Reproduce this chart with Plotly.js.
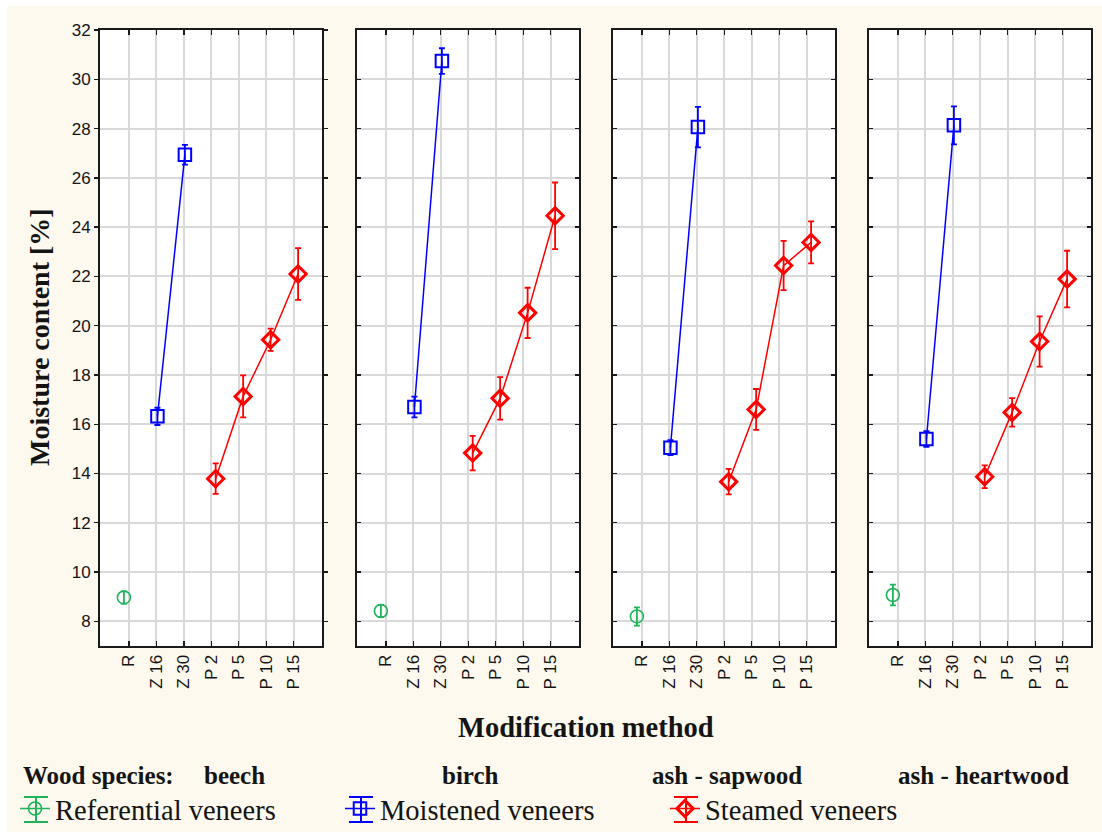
<!DOCTYPE html>
<html>
<head>
<meta charset="utf-8">
<script src="https://cdn.plot.ly/plotly-3.0.1.min.js"></script>
<style>html,body{margin:0;padding:0;background:#fff;}#chart{width:1102px;height:832px;}</style>
</head>
<body>
<div id="chart"></div>
<script>
// ---------------- DATA ----------------
const categories = ['R', 'Z 16', 'Z 30', 'P 2', 'P 5', 'P 10', 'P 15'];
const species = ['beech', 'birch', 'ash - sapwood', 'ash - heartwood'];
const seriesNames = ['Referential veneers', 'Moistened veneers', 'Steamed veneers'];

const referentialCats = ['R'];
const moistenedCats = ['Z 16', 'Z 30'];
const steamedCats = ['P 2', 'P 5', 'P 10', 'P 15'];

// one row per wood species (beech, birch, ash - sapwood, ash - heartwood)
const referentialMean = [[8.97], [8.42], [8.20], [9.07]];
const referentialErr  = [[0.25], [0.25], [0.37], [0.42]];

const moistenedMean = [[16.32, 26.94], [16.70, 30.74], [15.05, 28.06], [15.40, 28.13]];
const moistenedErr  = [[0.35, 0.40], [0.42, 0.52], [0.30, 0.82], [0.32, 0.77]];

const steamedMean = [[13.79, 17.13, 19.43, 22.10], [14.83, 17.05, 20.52, 24.46],
                     [13.67, 16.60, 22.44, 23.38], [13.87, 16.48, 19.36, 21.89]];
const steamedErr  = [[0.62, 0.85, 0.45, 1.05], [0.70, 0.86, 1.02, 1.35],
                     [0.52, 0.83, 1.00, 0.85], [0.46, 0.58, 1.02, 1.15]];

const yTicks = [8, 10, 12, 14, 16, 18, 20, 22, 24, 26, 28, 30, 32];

// ---------------- STYLE ----------------
const W = 1102, H = 832;
const fx = v => v / W;
const fy = v => 1 - v / H;
const panelPx = [[100, 322], [357, 579], [613, 835], [869, 1091]];
const plotTop = 30, plotBottom = 646;
const SERIF = 'Liberation Serif, Times New Roman, serif';
const SANS = 'Liberation Sans, Arial, sans-serif';
const TXT = '#141414';
const GREEN = '#1fb45a', BLUE = '#0000ff', RED = '#ff0000';
const xOffset = [-0.18, 0.04, 0.16]; // per-series horizontal offset within category

const seriesStyle = [
  {color: GREEN, symbol: 'circle-open', size: 13, mlw: 1.6, lw: 1.5},
  {color: BLUE, symbol: 'square-open', size: 12.5, mlw: 2, lw: 1.5},
  {color: RED, symbol: 'diamond-open', size: 12.5, mlw: 3, lw: 1.5}
];

const seriesCats = [referentialCats, moistenedCats, steamedCats];
const seriesMean = [referentialMean, moistenedMean, steamedMean];
const seriesErr = [referentialErr, moistenedErr, steamedErr];

const traces = [];
for (let p = 0; p < species.length; p++) {
  const sfx = p === 0 ? '' : String(p + 1);
  for (let s = 0; s < 3; s++) {
    const st = seriesStyle[s];
    traces.push({
      type: 'scatter',
      mode: 'lines+markers',
      name: seriesNames[s],
      legendgroup: seriesNames[s],
      showlegend: p === 0,
      xaxis: 'x' + sfx,
      yaxis: 'y' + sfx,
      x: seriesCats[s].map(c => categories.indexOf(c) + xOffset[s]),
      y: seriesMean[s][p],
      error_y: {type: 'data', array: seriesErr[s][p], visible: true,
                color: st.color, thickness: 1.8, width: 3},
      line: {color: st.color, width: st.lw},
      marker: {symbol: st.symbol, size: st.size, color: st.color,
               line: {color: st.color, width: st.mlw}},
      hoverinfo: 'x+y'
    });
  }
}

const legendX = 15, legendStep = 325, legendMidY = 809;

const layout = {
  width: W, height: H,
  margin: {l: 0, r: 0, t: 0, b: 0, pad: 0, autoexpand: false},
  paper_bgcolor: '#fdf9ee',
  plot_bgcolor: '#ffffff',
  showlegend: true,
  legend: {
    orientation: 'h', x: fx(legendX), xanchor: 'left', y: fy(legendMidY), yanchor: 'middle',
    font: {family: SERIF, size: 28.5, color: TXT},
    entrywidth: legendStep - 45, entrywidthmode: 'pixels', itemwidth: 30,
    bgcolor: 'rgba(0,0,0,0)', borderwidth: 0, traceorder: 'normal', itemclick: false
  },
  annotations: [],
  shapes: [
    {type: 'rect', xref: 'paper', yref: 'paper', x0: 0, x1: 1, y0: fy(6), y1: 1,
     fillcolor: '#ffffff', line: {width: 0}, layer: 'below'},
    {type: 'rect', xref: 'paper', yref: 'paper', x0: 0, x1: fx(7), y0: 0, y1: 1,
     fillcolor: '#ffffff', line: {width: 0}, layer: 'below'}
  ]
};

for (let p = 0; p < species.length; p++) {
  const sfx = p === 0 ? '' : String(p + 1);
  layout['xaxis' + sfx] = {
    domain: [fx(panelPx[p][0]), fx(panelPx[p][1])],
    anchor: 'y' + sfx,
    range: [-1.05, 7.03],
    tickmode: 'array',
    tickvals: categories.map((c, i) => i),
    ticktext: categories,
    tickangle: -90,
    ticks: 'inside', ticklen: 5, tickwidth: 1.4, tickcolor: '#1a1a1a',
    showline: true, linecolor: '#1a1a1a', linewidth: 2, mirror: 'ticks',
    showgrid: true, gridcolor: '#d9d9d9', gridwidth: 2,
    zeroline: false, fixedrange: true,
    tickfont: {family: SANS, size: 17, color: TXT}
  };
  layout['yaxis' + sfx] = {
    domain: [fy(plotBottom), fy(plotTop)],
    anchor: 'x' + sfx,
    range: [7, 32],
    tickmode: 'array',
    tickvals: yTicks,
    ticktext: yTicks.map(String),
    ticks: p === 0 ? 'outside' : 'inside', ticklen: 4, tickwidth: 1.4, tickcolor: '#1a1a1a',
    showticklabels: p === 0,
    showline: true, linecolor: '#1a1a1a', linewidth: 2, mirror: 'ticks',
    showgrid: true, gridcolor: '#d9d9d9', gridwidth: 2,
    zeroline: false, fixedrange: true,
    tickfont: {family: SANS, size: 17, color: TXT}
  };
}

// axis titles as annotations
layout.annotations.push({
  xref: 'paper', yref: 'paper', x: fx(40), y: fy(337), textangle: -90,
  text: '<b>Moisture content [%]</b>', showarrow: false,
  font: {family: SERIF, size: 28, color: TXT}, xanchor: 'center', yanchor: 'middle'
});
layout.annotations.push({
  xref: 'paper', yref: 'paper', x: fx(586), y: fy(727),
  text: '<b>Modification method</b>', showarrow: false,
  font: {family: SERIF, size: 28.5, color: TXT}, xanchor: 'center', yanchor: 'middle'
});
layout.annotations.push({
  xref: 'paper', yref: 'paper', x: fx(21), y: fy(775),
  text: '<b>Wood species:</b>', showarrow: false,
  font: {family: SERIF, size: 25, color: TXT}, xanchor: 'left', yanchor: 'middle'
});
const speciesLabelPx = [202, 440, 650, 896];
species.forEach((sp, i) => {
  layout.annotations.push({
    xref: 'paper', yref: 'paper', x: fx(speciesLabelPx[i]), y: fy(775),
    text: '<b>' + sp + '</b>', showarrow: false,
    font: {family: SERIF, size: 25, color: TXT}, xanchor: 'left', yanchor: 'middle'
  });
});

// error-bar caps for legend symbols
const legendColors = [GREEN, BLUE, RED];
legendColors.forEach((c, i) => {
  const cx = legendX + 21 + i * legendStep;
  layout.shapes.push({type: 'line', xref: 'paper', yref: 'paper', x0: fx(cx - 12), x1: fx(cx + 12), y0: fy(legendMidY - 12), y1: fy(legendMidY - 12), line: {color: c, width: 2}});
  layout.shapes.push({type: 'line', xref: 'paper', yref: 'paper', x0: fx(cx - 12), x1: fx(cx + 12), y0: fy(legendMidY + 13), y1: fy(legendMidY + 13), line: {color: c, width: 2}});
  layout.shapes.push({type: 'line', xref: 'paper', yref: 'paper', x0: fx(cx), x1: fx(cx), y0: fy(legendMidY - 12), y1: fy(legendMidY + 13), line: {color: c, width: 2}});
});

Plotly.newPlot('chart', traces, layout, {displayModeBar: false, staticPlot: true});
</script>
</body>
</html>
